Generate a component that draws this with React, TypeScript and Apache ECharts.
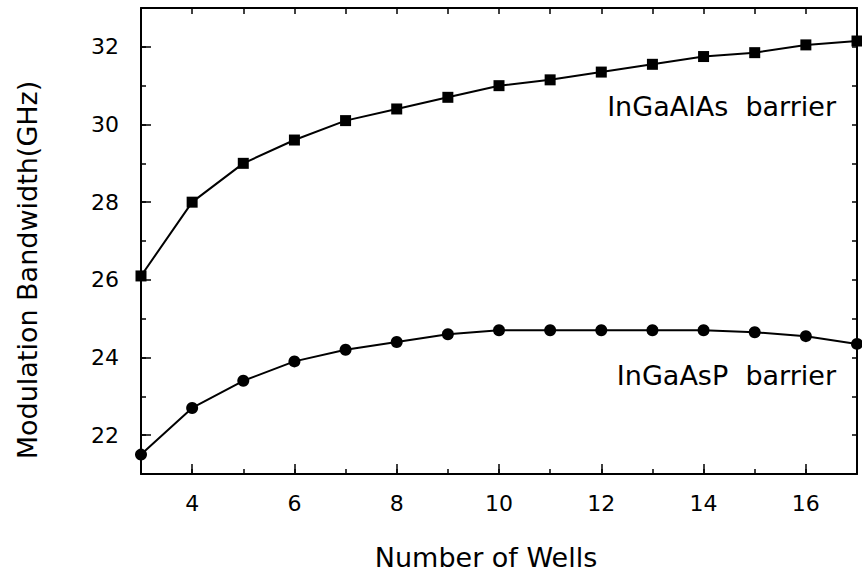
import React, { useEffect, useRef } from 'react';
import * as echarts from 'echarts';

const wells = [3, 4, 5, 6, 7, 8, 9, 10, 11, 12, 13, 14, 15, 16, 17];
const inGaAlAsBarrier = [26.1, 28.0, 29.0, 29.6, 30.1, 30.4, 30.7, 31.0, 31.15, 31.35, 31.55, 31.75, 31.85, 32.05, 32.15];
const inGaAsPBarrier = [21.5, 22.7, 23.4, 23.9, 24.2, 24.4, 24.6, 24.7, 24.7, 24.7, 24.7, 24.7, 24.65, 24.55, 24.35];
const xMajorTicks = [4, 6, 8, 10, 12, 14, 16];
const yMajorTicks = [22, 24, 26, 28, 30, 32];
const xTitle = 'Number of Wells';
const yTitle = 'Modulation Bandwidth(GHz)';
const labelTop = 'InGaAlAs  barrier';
const labelBottom = 'InGaAsP  barrier';

const FONT = 'DejaVu Sans';

export default function App() {
  const ref = useRef<HTMLDivElement>(null);
  useEffect(() => {
    if (!ref.current) return;
    const chart = echarts.init(ref.current, undefined, { renderer: 'svg' });
    const black = '#000';
    const line = { show: true, onZero: false, lineStyle: { color: black, width: 2 } };
    const noSplit = { show: false };
    const option: any = {
      animation: false,
      backgroundColor: '#fff',
      textStyle: { fontFamily: FONT },
      grid: { left: 141, right: 5, top: 8, bottom: 113, containLabel: false },
      xAxis: [
        {
          type: 'value', min: 3, max: 17, interval: 1, position: 'bottom',
          axisLine: line,
          axisTick: { show: true, inside: true, length: 10, customValues: xMajorTicks, lineStyle: { color: black, width: 1.5 } },
          axisLabel: { show: true, customValues: xMajorTicks, margin: 18, color: black, fontSize: 22, fontFamily: FONT },
          splitLine: noSplit,
          name: xTitle, nameLocation: 'middle', nameGap: 70,
          nameTextStyle: { color: black, fontSize: 27, fontFamily: FONT, padding: [0, 26, 0, 0] },
        },
        {
          type: 'value', min: 3, max: 17, interval: 1, position: 'bottom',
          axisLine: { show: false },
          axisTick: { show: true, inside: true, length: 5, lineStyle: { color: black, width: 1.5 } },
          axisLabel: { show: false }, splitLine: noSplit,
        },
        {
          type: 'value', min: 3, max: 17, interval: 1, position: 'top',
          axisLine: line,
          axisTick: { show: true, inside: true, length: 6, lineStyle: { color: black, width: 1.5 } },
          axisLabel: { show: false }, splitLine: noSplit,
        },
      ],
      yAxis: [
        {
          type: 'value', min: 21, max: 33, interval: 1, position: 'left',
          axisLine: line,
          axisTick: { show: true, inside: true, length: 10, customValues: yMajorTicks, lineStyle: { color: black, width: 1.5 } },
          axisLabel: { show: true, customValues: yMajorTicks, margin: 22, color: black, fontSize: 22, fontFamily: FONT },
          splitLine: noSplit,
          name: yTitle, nameLocation: 'middle', nameGap: 100, nameRotate: 90,
          nameTextStyle: { color: black, fontSize: 27, fontFamily: FONT, padding: [0, 58, 0, 0] },
        },
        {
          type: 'value', min: 21, max: 33, interval: 1, position: 'left',
          axisLine: { show: false },
          axisTick: { show: true, inside: true, length: 5, lineStyle: { color: black, width: 1.5 } },
          axisLabel: { show: false }, splitLine: noSplit,
        },
        {
          type: 'value', min: 21, max: 33, interval: 1, position: 'right',
          axisLine: line,
          axisTick: { show: true, inside: true, length: 5, lineStyle: { color: black, width: 1.5 } },
          axisLabel: { show: false }, splitLine: noSplit,
        },
      ],
      series: [
        {
          name: labelTop, type: 'line', xAxisIndex: 0, yAxisIndex: 0,
          data: wells.map((w, i) => [w, inGaAlAsBarrier[i]]),
          symbol: 'rect', symbolSize: 11, clip: false,
          lineStyle: { color: black, width: 2 }, itemStyle: { color: black },
        },
        {
          name: labelBottom, type: 'line', xAxisIndex: 0, yAxisIndex: 0,
          data: wells.map((w, i) => [w, inGaAsPBarrier[i]]),
          symbol: 'circle', symbolSize: 12, clip: false,
          lineStyle: { color: black, width: 2 }, itemStyle: { color: black },
        },
      ],
      graphic: [
        { type: 'text', right: 26, top: 93, style: { text: labelTop, fill: black, fontSize: 27, fontFamily: FONT } },
        { type: 'text', right: 26, top: 362, style: { text: labelBottom, fill: black, fontSize: 27, fontFamily: FONT } },
      ],
    };
    chart.setOption(option);
    return () => chart.dispose();
  }, []);
  return <div ref={ref} style={{ position: 'fixed', left: 0, top: 0, width: 862, height: 587 }} />;
}
